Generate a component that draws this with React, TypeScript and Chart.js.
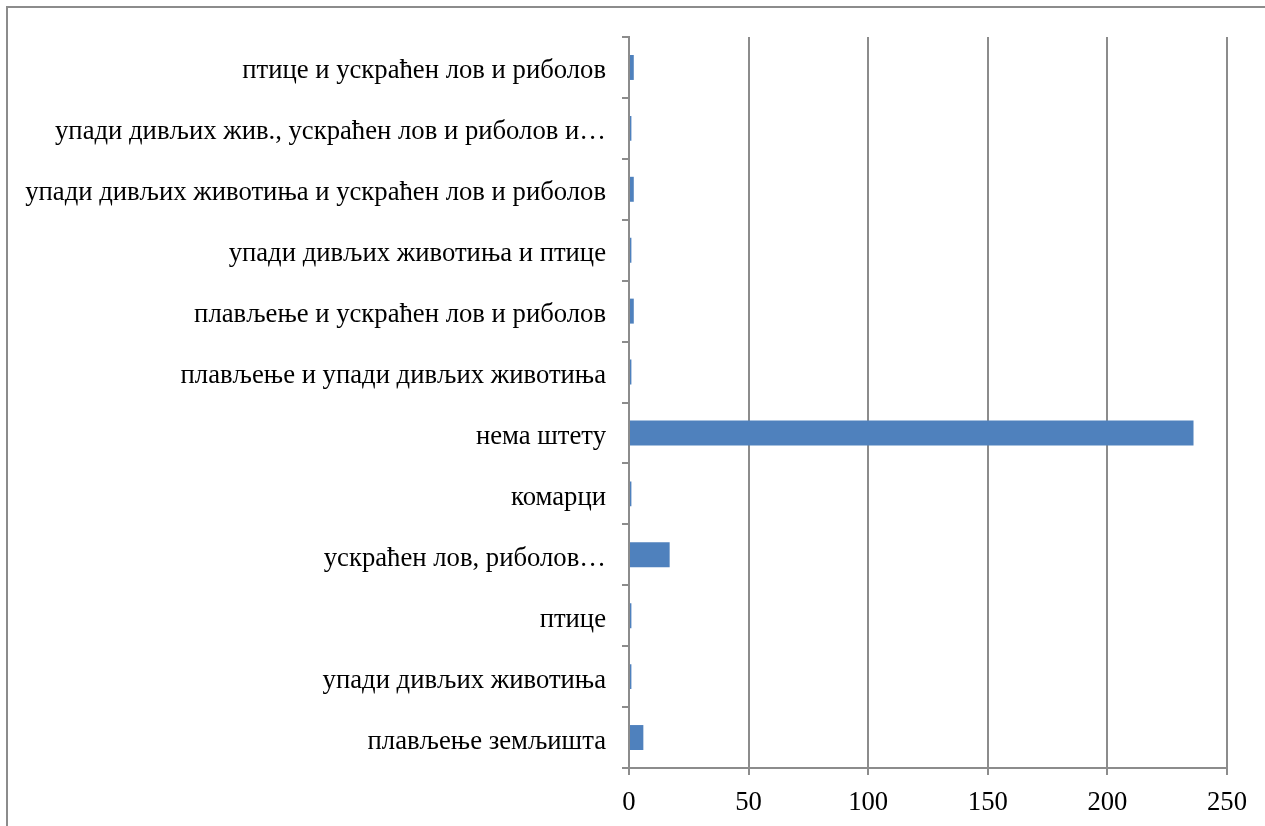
import React, { useEffect, useRef } from "react";
import { Chart, registerables } from "chart.js";

Chart.register(...registerables);

const categories: string[] = [
  "плављење земљишта",
  "упади дивљих животиња",
  "птице",
  "ускраћен лов, риболов…",
  "комарци",
  "нема штету",
  "плављење и упади дивљих животиња",
  "плављење и ускраћен лов и риболов",
  "упади дивљих животиња и птице",
  "упади дивљих животиња и ускраћен лов и риболов",
  "упади дивљих жив., ускраћен лов и риболов и…",
  "птице и ускраћен лов и риболов",
];

const values: number[] = [6, 1, 1, 17, 1, 236, 1, 2, 1, 2, 1, 2];

const xTicks: number[] = [0, 50, 100, 150, 200, 250];

const GRAY = "#8c8c8c";
const FONT = "'Liberation Serif', 'Times New Roman', serif";
const FONT_SIZE = 26.7;

const yLabelPlugin = {
  id: "yLabelPlugin",
  afterDraw(chart: any) {
    const scale = chart.scales.y;
    const ctx = chart.ctx;
    ctx.save();
    ctx.font = `${FONT_SIZE}px ${FONT}`;
    ctx.fillStyle = "#000";
    ctx.textAlign = "right";
    ctx.textBaseline = "middle";
    const x = scale.right - 7 - 16;
    scale.ticks.forEach((_t: any, i: number) => {
      const y = scale.getPixelForTick(i);
      const label = chart.data.labels[i];
      ctx.fillText(label, x, y + 4);
    });
    ctx.restore();
  },
};

export default function App() {
  const ref = useRef<HTMLCanvasElement | null>(null);

  useEffect(() => {
    if (!ref.current) return;
    const chart = new Chart(ref.current, {
      type: "bar",
      data: {
        labels: categories,
        datasets: [
          {
            data: values,
            backgroundColor: "#4F81BD",
            borderWidth: 0,
            categoryPercentage: 1,
            barPercentage: 0.41,
          },
        ],
      },
      options: {
        indexAxis: "y",
        animation: false,
        responsive: false,
        maintainAspectRatio: false,
        layout: { padding: { left: 0, top: 37, right: 38, bottom: 0 } },
        plugins: { legend: { display: false }, tooltip: { enabled: false } },
        scales: {
          x: {
            min: 0,
            max: 250,
            afterBuildTicks: (scale: any) => {
              scale.ticks = xTicks.map((v) => ({ value: v }));
            },
            afterFit: (scale: any) => {
              scale.height = 58;
            },
            grid: {
              color: GRAY,
              lineWidth: 2,
              drawTicks: true,
              tickLength: 7,
              tickColor: GRAY,
            },
            border: { display: true, color: GRAY, width: 2 },
            ticks: {
              color: "#000",
              font: { family: FONT, size: FONT_SIZE },
              padding: 12,
              maxRotation: 0,
            },
          },
          y: {
            reverse: true,
            afterFit: (scale: any) => {
              scale.width = 629;
            },
            grid: {
              offset: true,
              drawOnChartArea: false,
              drawTicks: true,
              tickLength: 7,
              tickColor: GRAY,
              lineWidth: 2,
            },
            border: { display: true, color: GRAY, width: 2 },
            ticks: {
              display: false,
              autoSkip: false,
            },
          },
        },
      },
      plugins: [yLabelPlugin],
    });
    return () => chart.destroy();
  }, []);

  return (
    <div
      style={{
        position: "absolute",
        left: 0,
        top: 0,
        width: 1265,
        height: 826,
        overflow: "hidden",
        background: "#fff",
      }}
    >
      <div
        style={{
          position: "absolute",
          left: 6,
          top: 6,
          width: 1400,
          height: 1000,
          border: `2px solid ${GRAY}`,
        }}
      />
      <canvas
        ref={ref}
        width={1265}
        height={826}
        style={{ position: "absolute", left: 0, top: 0, width: 1265, height: 826 }}
      />
    </div>
  );
}
